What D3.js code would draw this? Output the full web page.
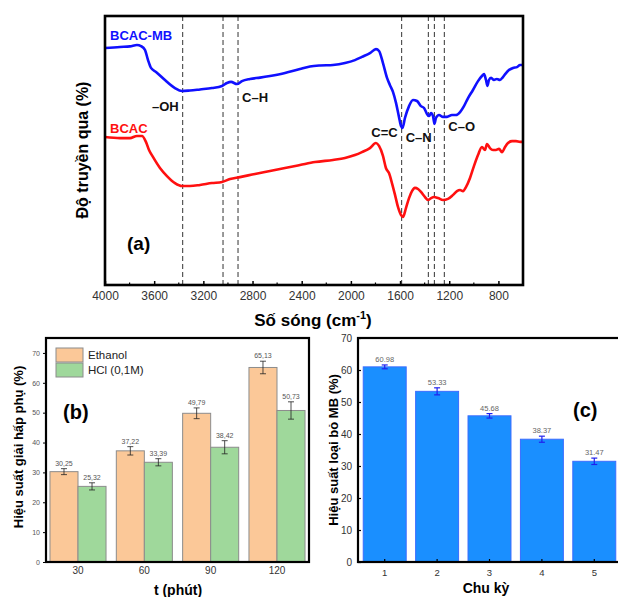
<!DOCTYPE html>
<html><head><meta charset="utf-8">
<script src="https://cdn.jsdelivr.net/npm/d3@7"></script>
<style>body{margin:0;background:#fff}svg{display:block}text{font-family:"Liberation Sans",Arial,sans-serif}</style>
</head><body>
<svg id="c" width="618" height="597"></svg>
<script>
// ---------- Panel (a): FTIR spectra ----------
const waveTicks = [4000,3600,3200,2800,2400,2000,1600,1200,800];
const peakLines = [3368,3040,2918,1587,1370,1321,1240];
const bcacMB = [[4000,88.1],[3878,88.5],[3797,88.7],[3740,89.2],[3707,88.8],[3675,87.4],[3650,83.6],[3626,80.7],[3585,79.2],[3512,76.2],[3431,73.2],[3374,72.1],[3309,72.3],[3227,72.7],[3130,73.2],[3048,74.0],[3008,75.1],[2975,75.5],[2926,74.7],[2886,75.8],[2821,76.6],[2739,77.1],[2658,77.7],[2536,78.8],[2414,80.3],[2333,81.2],[2251,81.6],[2146,81.8],[2048,82.5],[1967,83.6],[1910,84.8],[1845,86.2],[1796,87.7],[1771,87.0],[1739,82.5],[1706,77.0],[1682,74.3],[1657,71.7],[1633,67.7],[1609,62.5],[1592,59.1],[1580,58.4],[1560,62.1],[1527,66.5],[1495,68.8],[1462,68.4],[1430,66.5],[1405,65.8],[1381,63.6],[1365,62.8],[1348,63.9],[1332,62.8],[1320,59.9],[1308,62.1],[1283,63.2],[1251,62.5],[1218,62.5],[1178,63.2],[1145,63.2],[1112,64.3],[1080,66.5],[1047,69.5],[1007,72.5],[966,75.8],[934,77.7],[917,78.4],[901,76.2],[889,74.0],[877,76.2],[860,77.0],[836,76.2],[812,76.6],[787,76.2],[763,77.3],[738,78.8],[714,79.9],[681,80.7],[649,81.0],[624,81.8],[600,81.8]];
const bcac = [[4000,55.0],[3878,54.6],[3797,54.6],[3740,55.4],[3699,55.4],[3667,53.2],[3642,50.2],[3610,47.6],[3553,43.5],[3496,40.5],[3431,37.9],[3374,36.8],[3309,36.8],[3227,37.2],[3130,37.9],[3048,38.3],[2983,39.4],[2902,40.1],[2780,41.3],[2658,42.4],[2536,43.5],[2414,44.6],[2292,45.7],[2146,46.5],[2048,47.2],[1967,48.3],[1910,49.4],[1845,50.9],[1796,52.8],[1771,51.7],[1739,48.0],[1715,43.5],[1690,41.6],[1666,37.9],[1641,33.5],[1617,29.0],[1592,26.0],[1576,25.3],[1552,28.6],[1527,32.3],[1503,34.9],[1479,36.1],[1454,35.7],[1430,34.6],[1397,32.7],[1373,31.6],[1348,32.3],[1324,32.7],[1291,32.3],[1251,31.6],[1210,32.0],[1169,33.5],[1137,34.9],[1112,35.3],[1088,34.9],[1064,36.4],[1031,39.8],[999,44.2],[966,48.3],[934,51.3],[909,50.2],[893,52.4],[869,50.9],[844,50.2],[820,50.2],[795,50.6],[771,49.4],[746,51.3],[722,52.8],[689,53.5],[657,53.5],[624,53.2],[600,53.2]];
const bandLabels = [["–OH",3368,"end"],["C–H",2918,"start"],["C=C",1587,"end"],["C–N",1587,"start"],["C–O",1240,"start"]];

// ---------- Panel (b): desorption ----------
const times = ["30","60","90","120"];
const seriesB = ["Ethanol","HCl (0,1M)"];
const ethanol = [30.25,37.22,49.79,65.13];
const ethanolErr = [1.0,1.4,1.8,2.1];
const hcl = [25.32,33.39,38.42,50.73];
const hclErr = [1.2,1.2,2.2,2.9];
const ticksB = [0,10,20,30,40,50,60,70];

// ---------- Panel (c): cycles ----------
const cycles = ["1","2","3","4","5"];
const removal = [60.98,53.33,45.68,38.37,31.47];
const removalErr = [0.6,1.1,0.7,0.95,1.0];
const ticksC = [0,10,20,30,40,50,60,70];

const svg = d3.select("#c");

// ===== Panel (a) =====
{
  const L=105,R=523,T=16,B=285;
  const x = d3.scaleLinear().domain([4000,600]).range([L,R]);
  const y = d3.scaleLinear().domain([0,100]).range([B,T]);
  const g = svg.append("g");
  g.selectAll("line.pk").data(peakLines).join("line")
    .attr("x1",d=>x(d)).attr("x2",d=>x(d)).attr("y1",T).attr("y2",B)
    .attr("stroke","#333").attr("stroke-width",1).attr("stroke-dasharray","5,3");
  const line = d3.line().x(d=>x(d[0])).y(d=>y(d[1])).curve(d3.curveMonotoneX);
  g.append("path").datum(bcacMB).attr("d",line).attr("fill","none").attr("stroke","#1010ff").attr("stroke-width",2.6);
  g.append("path").datum(bcac).attr("d",line).attr("fill","none").attr("stroke","#ff1010").attr("stroke-width",2.6);
  const ax = d3.axisBottom(x).tickValues(waveTicks).tickFormat(d3.format("d")).tickSize(-4).tickPadding(6);
  const axg = g.append("g").attr("transform",`translate(0,${B})`).call(ax);
  axg.select(".domain").remove();
  axg.selectAll("text").attr("font-size",12).attr("fill","#333").attr("dy","0.71em");
  axg.selectAll("line").attr("stroke","#000").attr("stroke-width",1.5);
  const minor = d3.range(3800,600,-400);
  g.selectAll("line.mn").data(minor).join("line").attr("x1",d=>x(d)).attr("x2",d=>x(d)).attr("y1",B).attr("y2",B-2.5).attr("stroke","#000").attr("stroke-width",1.2);
  g.append("rect").attr("x",L).attr("y",T).attr("width",R-L).attr("height",B-T).attr("fill","none").attr("stroke","#000").attr("stroke-width",2.6);
  g.append("text").attr("x",110).attr("y",40).attr("fill","#1010ff").attr("font-weight","bold").attr("font-size",13).text("BCAC-MB");
  g.append("text").attr("x",110).attr("y",133).attr("fill","#ff1010").attr("font-weight","bold").attr("font-size",13).text("BCAC");
  const lblY = {"–OH":111,"C–H":102,"C=C":137,"C–N":142,"C–O":131};
  bandLabels.forEach(([t,w,a])=>{
    g.append("text").attr("x",x(w)+(a==="end"?-4:4)).attr("y",lblY[t]).attr("text-anchor",a)
      .attr("font-weight","bold").attr("font-size",13).attr("fill","#111").text(t);
  });
  g.append("text").attr("x",127).attr("y",250).attr("font-weight","bold").attr("font-size",19).text("(a)");
  g.append("text").attr("transform","translate(88,150) rotate(-90)").attr("text-anchor","middle")
    .attr("font-weight","bold").attr("font-size",16).text("Độ truyền qua (%)");
  const xt = g.append("text").attr("x",313).attr("y",326).attr("text-anchor","middle").attr("font-weight","bold").attr("font-size",17);
  xt.append("tspan").text("Số sóng (cm");
  xt.append("tspan").attr("font-size",11).attr("dy",-7).text("-1");
  xt.append("tspan").attr("dy",7).text(")");
}

// ===== Panel (b) =====
{
  const L=46,R=309,T=338,B=562;
  const x0 = d3.scaleBand().domain(times).range([L,R]).paddingInner(0.155).paddingOuter(0.06);
  const x1 = d3.scaleBand().domain(seriesB).range([0,x0.bandwidth()]);
  const y = d3.scaleLinear().domain([0,75]).range([B,T]);
  const g = svg.append("g");
  const cols = {"Ethanol":"#fbc898","HCl (0,1M)":"#9fd89b"};
  const rows = [];
  times.forEach((t,i)=>{
    rows.push({t,s:seriesB[0],v:ethanol[i],e:ethanolErr[i]});
    rows.push({t,s:seriesB[1],v:hcl[i],e:hclErr[i]});
  });
  const bx = d=>x0(d.t)+x1(d.s);
  g.selectAll("rect.b").data(rows).join("rect")
    .attr("x",bx).attr("width",x1.bandwidth()).attr("y",d=>y(d.v)).attr("height",d=>y(0)-y(d.v))
    .attr("fill",d=>cols[d.s]).attr("stroke","#8c8c8c").attr("stroke-width",1);
  const cx = d=>bx(d)+x1.bandwidth()/2;
  rows.forEach(d=>{
    const c=cx(d);
    g.append("line").attr("x1",c).attr("x2",c).attr("y1",y(d.v+d.e)).attr("y2",y(d.v-d.e)).attr("stroke","#222").attr("stroke-width",0.8);
    [d.v+d.e,d.v-d.e].forEach(v=>g.append("line").attr("x1",c-3).attr("x2",c+3).attr("y1",y(v)).attr("y2",y(v)).attr("stroke","#222").attr("stroke-width",0.8));
    g.append("text").attr("x",c).attr("y",y(d.v+d.e)-3).attr("text-anchor","middle").attr("font-size",7).attr("fill","#555").text(d.v.toFixed(2).replace(".",","));
  });
  const ya = d3.axisLeft(y).tickValues(ticksB).tickSize(3).tickPadding(3);
  const yg = g.append("g").attr("transform",`translate(${L},0)`).call(ya);
  yg.select(".domain").remove();
  yg.selectAll("text").attr("font-size",7).attr("fill","#555");
  yg.selectAll("line").attr("stroke","#000");
  const xa = d3.axisBottom(x0).tickSize(0).tickPadding(5);
  const xg = g.append("g").attr("transform",`translate(0,${B})`).call(xa);
  xg.select(".domain").remove();
  xg.selectAll("text").attr("font-size",10).attr("fill","#333");
  g.append("rect").attr("x",L).attr("y",T).attr("width",R-L).attr("height",B-T).attr("fill","none").attr("stroke","#000").attr("stroke-width",2.2);
  seriesB.forEach((s,i)=>{
    g.append("rect").attr("x",56).attr("y",348+i*15).attr("width",27).attr("height",14).attr("fill",cols[s]).attr("stroke","#8c8c8c");
    g.append("text").attr("x",88).attr("y",359+i*15).attr("font-size",11.5).attr("fill","#222").text(s);
  });
  g.append("text").attr("x",63).attr("y",419).attr("font-weight","bold").attr("font-size",20).text("(b)");
  g.append("text").attr("transform","translate(23,447) rotate(-90)").attr("text-anchor","middle")
    .attr("font-weight","bold").attr("font-size",13).text("Hiệu suất giải hấp phụ (%)");
  g.append("text").attr("x",178).attr("y",595).attr("text-anchor","middle").attr("font-weight","bold").attr("font-size",14).text("t (phút)");
}

// ===== Panel (c) =====
{
  const L=358,R=621,T=338,B=562;
  const x = d3.scaleBand().domain(cycles).range([L,R]).paddingInner(0.18).paddingOuter(0.1);
  const y = d3.scaleLinear().domain([0,70]).range([B,T]);
  const g = svg.append("g");
  const rows = cycles.map((c,i)=>({c,v:removal[i],e:removalErr[i]}));
  g.selectAll("rect.b").data(rows).join("rect")
    .attr("x",d=>x(d.c)).attr("width",x.bandwidth()).attr("y",d=>y(d.v)).attr("height",d=>y(0)-y(d.v))
    .attr("fill","#1a8fff").attr("stroke","#3b6cff").attr("stroke-width",1);
  rows.forEach(d=>{
    const c=x(d.c)+x.bandwidth()/2;
    g.append("line").attr("x1",c).attr("x2",c).attr("y1",y(d.v+d.e)).attr("y2",y(d.v-d.e)).attr("stroke","#2020ee").attr("stroke-width",1.2);
    [d.v+d.e,d.v-d.e].forEach(v=>g.append("line").attr("x1",c-3).attr("x2",c+3).attr("y1",y(v)).attr("y2",y(v)).attr("stroke","#2020ee").attr("stroke-width",1.2));
    g.append("text").attr("x",c).attr("y",y(d.v+d.e)-3).attr("text-anchor","middle").attr("font-size",7.5).attr("fill","#666").text(d.v.toFixed(2));
  });
  const ya = d3.axisLeft(y).tickValues(ticksC).tickSize(-3).tickPadding(6);
  const yg = g.append("g").attr("transform",`translate(${L},0)`).call(ya);
  yg.select(".domain").remove();
  yg.selectAll("text").attr("font-size",10).attr("fill","#333");
  yg.selectAll("line").attr("stroke","#000").attr("stroke-width",1.2);
  const xa = d3.axisBottom(x).tickSize(-3).tickPadding(7);
  const xg = g.append("g").attr("transform",`translate(0,${B})`).call(xa);
  xg.select(".domain").remove();
  xg.selectAll("text").attr("font-size",9.5).attr("fill","#333");
  xg.selectAll("line").attr("stroke","#000").attr("stroke-width",1.2);
  g.append("rect").attr("x",L).attr("y",T).attr("width",R-L).attr("height",B-T).attr("fill","none").attr("stroke","#000").attr("stroke-width",2.2);
  g.append("text").attr("x",573).attr("y",417).attr("font-weight","bold").attr("font-size",20).text("(c)");
  g.append("text").attr("transform","translate(338,450) rotate(-90)").attr("text-anchor","middle")
    .attr("font-weight","bold").attr("font-size",13).text("Hiệu suất loại bỏ MB (%)");
  g.append("text").attr("x",486).attr("y",593).attr("text-anchor","middle").attr("font-weight","bold").attr("font-size",14).text("Chu kỳ");
}
</script>
</body></html>
